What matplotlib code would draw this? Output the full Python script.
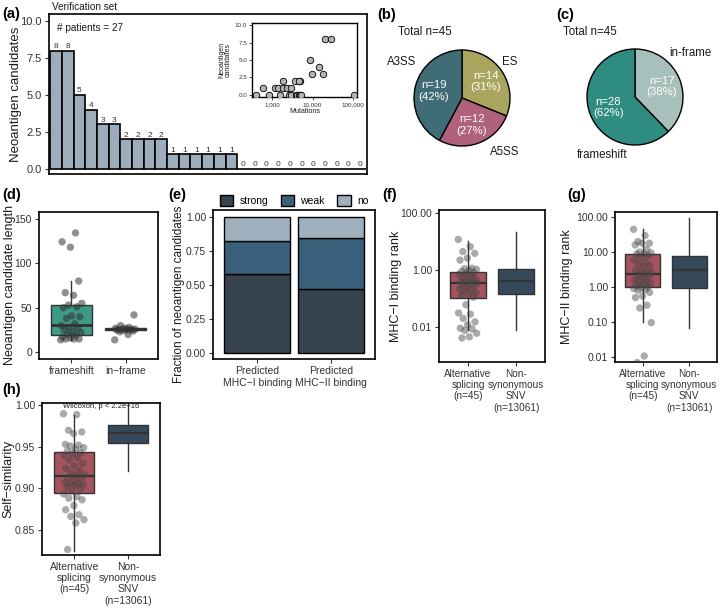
import matplotlib
matplotlib.use('Agg')
import matplotlib.pyplot as plt
import numpy as np

plt.rcParams['font.family'] = ['Liberation Sans', 'DejaVu Sans']

# ---------------- data ----------------
a_values = [8, 8, 5, 4, 3, 3, 2, 2, 2, 2, 1, 1, 1, 1, 1, 1, 0, 0, 0, 0, 0, 0, 0, 0, 0, 0, 0]
inset_neo = [8, 8, 5, 4, 3, 3, 2, 2, 2, 2, 1, 1, 1, 1, 1, 1, 0, 0, 0, 0, 0, 0, 0, 0, 0, 0, 0]
inset_mut = [20000, 29000, 8500, 14400, 9600, 18100, 1900, 3600, 4800, 4500,
             600, 1150, 1380, 1850, 2330, 2940,
             400, 810, 1520, 2650, 3000, 3900, 4000, 4500, 4800, 5100, 107000]

b_labels = ['ES', 'A5SS', 'A3SS']
b_counts = [14, 12, 19]
c_labels = ['in-frame', 'frameshift']
c_counts = [17, 28]

d_frameshift = [14, 15, 15, 15, 16, 17, 19, 20, 22, 23, 25, 27, 28, 30, 32, 38, 40, 41,
                50, 51, 53, 55, 64, 67, 80, 118, 124, 134]
d_inframe = [14, 20, 23, 24, 25, 25, 25, 25, 26, 26, 26, 26, 27, 27, 28, 30, 42]
d_cats = ['frameshift', 'in\u2212frame']

e_cats = ['Predicted\nMHC\u2212I binding', 'Predicted\nMHC\u2212II binding']
e_strong = [26, 21]
e_weak = [11, 17]
e_no = [8, 7]

group_labels = ['Alternative\nsplicing\n(n=45)', 'Non-\nsynonymous\nSNV\n(n=13061)']

f_points = [11.7, 6.5, 4.4, 3.8, 2.6, 2.2, 1.15, 1.1, 1.05, 0.95, 0.88,
            0.8, 0.75, 0.7, 0.62, 0.55, 0.5, 0.45, 0.42, 0.4, 0.37, 0.35,
            0.33, 0.3, 0.28, 0.25, 0.22, 0.2, 0.18, 0.16, 0.14, 0.13, 0.11,
            0.06, 0.031, 0.028, 0.02, 0.015, 0.012, 0.009, 0.0085, 0.0075, 0.006, 0.0045, 0.0041]
# q1, med, q3, whislo, whishi
f_stats_as = [0.107, 0.34, 0.83, 0.008, 10.7]
f_stats_snv = [0.14, 0.42, 1.05, 0.0075, 21]

g_points = [45, 30, 20, 18, 18, 16, 12, 10, 9.5, 9, 8.9,
            8, 7, 6, 5, 4.5, 4, 3.5, 3, 2.8, 2.6, 2.5,
            2.3, 2.1, 2.0, 1.8, 1.6, 1.5, 1.4, 1.3, 1.2, 1.1, 1.0,
            0.95, 0.9, 0.85, 0.8, 0.7, 0.55, 0.5, 0.3, 0.25, 0.095, 0.0105, 0.0068]
g_stats_as = [0.97, 2.4, 8.8, 0.098, 45]
g_stats_snv = [0.95, 3.1, 7.5, 0.067, 93]

h_points = [0.99, 0.989, 0.97, 0.968, 0.966, 0.953, 0.952, 0.951, 0.949, 0.947, 0.945,
            0.943, 0.942, 0.94, 0.937, 0.934, 0.93, 0.927, 0.924, 0.921, 0.918, 0.916,
            0.915,
            0.913, 0.911, 0.909, 0.907, 0.906, 0.905, 0.904, 0.903, 0.901, 0.899, 0.896,
            0.893, 0.89, 0.888, 0.886, 0.879, 0.874, 0.868, 0.866, 0.862, 0.858, 0.826]
h_stats_as = [0.894, 0.9152, 0.944, 0.824, 0.989]
h_stats_snv = [0.9545, 0.967, 0.977, 0.9206, 1.01]

# ---------------- figure ----------------
W, H = 720, 610
fig = plt.figure(figsize=(7.2, 6.1), dpi=100)
TXT = '#1a1a1a'
TICK = '#333333'
TL = 7.5


def add_ax(x0, y0, x1, y1):
    return fig.add_axes([x0 / W, 1 - y1 / H, (x1 - x0) / W, (y1 - y0) / H])


def style(ax, lab=TL):
    for s in ax.spines.values():
        s.set_linewidth(1.2)
        s.set_color('black')
    ax.tick_params(length=3, width=0.8, labelsize=lab, colors=TICK, labelcolor=TICK, pad=2)


def plabel(x, y, s):
    fig.text(x / W, 1 - y / H, s, fontsize=10.5, fontweight='bold', va='center', ha='left')


def ylab(x, y, s, size=9):
    fig.text(x / W, 1 - y / H, s, rotation=90, fontsize=size, color=TXT, ha='center', va='center')


def jitter(n, amp):
    return np.array([((i * 0.618034) % 1 - 0.5) * 2 * amp for i in range(n)])


# ---- (a)
ax = add_ax(49, 14, 367, 174)
xs = np.arange(1, len(a_values) + 1)
ax.bar(xs, a_values, width=1.0, color='#9DADBB', edgecolor='black', linewidth=1.2)
for xi, v in zip(xs, a_values):
    ax.text(xi, v + 0.03, str(v), ha='center', va='bottom', fontsize=6, color='#333333')
ax.set_xlim(0.4, 27.6)
ax.set_ylim(-0.35, 10.47)
ax.set_xticks([])
ax.set_yticks([0, 2.5, 5, 7.5, 10])
ax.set_yticklabels(['0.0', '2.5', '5.0', '7.5', '10.0'])
style(ax, 8)
ylab(16, 94, 'Neoantigen candidates', 9.5)
ax.text(0.025, 0.915, '# patients = 27', transform=ax.transAxes, fontsize=7.2, color=TXT, va='center')
fig.text(52 / W, 1 - 7 / H, 'Verification set', fontsize=7.2, color=TXT, va='center')
plabel(2, 14, '(a)')

# inset
ai = add_ax(252, 23, 357, 97)
ai.scatter(inset_mut, inset_neo, s=22, color='#B3B3B3', edgecolor='black', linewidth=0.6, zorder=3)
ai.set_xscale('log')
ai.set_xlim(316, 126000)
ai.set_ylim(-0.3, 10.3)
ai.set_xticks([1000, 10000, 100000])
ai.set_xticklabels(['1,000', '10,000', '100,000'])
ai.minorticks_off()
ai.set_yticks([0, 2.5, 5, 7.5, 10])
ai.set_yticklabels(['0.0', '2.5', '5.0', '7.5', '10.0'])
style(ai, 4.5)
ai.tick_params(length=2, width=0.6, pad=1.5)
for s in ai.spines.values():
    s.set_linewidth(1.0)
ai.set_xlabel('Mutations', fontsize=5, labelpad=1, color=TXT)
ai.set_ylabel('Neoantigen\ncandidates', fontsize=5, labelpad=2, color=TXT, linespacing=0.9)


# ---- pies
def pie_panel(center_x, center_y, counts, colors, fmt_total, outer, totpos):
    R = 48
    half = R * 1.6
    pa = add_ax(center_x - half, center_y - half, center_x + half, center_y + half)
    total = sum(counts)
    pa.pie(counts, colors=colors, startangle=90, counterclock=False,
           wedgeprops=dict(edgecolor='black', linewidth=1.0),
           autopct=lambda p: 'n=%d\n(%d%%)' % (round(p * total / 100), round(p)),
           pctdistance=0.6, textprops=dict(color='white', fontsize=8.2, linespacing=1.15))
    pa.set_xlim(-1.6, 1.6)
    pa.set_ylim(-1.6, 1.6)
    pa.set_aspect('auto')
    pa.axis('off')
    for lab, (x, y) in outer:
        pa.text(x, y, lab, ha='center', va='center', fontsize=8.3, color=TXT)
    pa.text(totpos[0], totpos[1], fmt_total, ha='left', va='center', fontsize=8.3, color=TXT)


pie_panel(462, 98, b_counts, ['#A9A45E', '#B0617B', '#3F6C75'], 'Total n=%d' % sum(b_counts),
          [(b_labels[0], (1.0, 0.75)), (b_labels[1], (0.88, -1.12)), (b_labels[2], (-1.25, 0.75))],
          (-1.33, 1.375))
plabel(377, 15, '(b)')

pie_panel(635, 97, c_counts, ['#A8C0BB', '#2F8C81'], 'Total n=%d' % sum(c_counts),
          [(c_labels[0], (1.15, 0.92)), (c_labels[1], (-0.69, -1.21))],
          (-1.5, 1.35))
plabel(556, 15, '(c)')

# ---- (d)
ax = add_ax(39, 212, 158, 359)
bp = ax.boxplot([d_frameshift, d_inframe], positions=[1, 2], widths=0.75, patch_artist=True,
                showcaps=False, showfliers=False,
                boxprops=dict(edgecolor='#333333', linewidth=1.0),
                medianprops=dict(color='#333333', linewidth=2.0),
                whiskerprops=dict(color='#333333', linewidth=1.0))
bp['boxes'][0].set_facecolor('#3E9986')
bp['boxes'][1].set_facecolor('#A8C0BB')
for pos, vals in [(1, d_frameshift), (2, d_inframe)]:
    ax.scatter(pos + jitter(len(vals), 0.2), vals, s=28, color='#333333', alpha=0.55,
               edgecolor='none', zorder=3)
ax.set_xlim(0.4, 2.6)
ax.set_ylim(-7.5, 157.5)
ax.set_yticks([0, 50, 100, 150])
ax.set_xticks([1, 2])
ax.set_xticklabels(d_cats)
style(ax)
ylab(10, 285, 'Neoantigen candidate length')
plabel(2, 195, '(d)')

# ---- (e)
ax = add_ax(213, 210, 375, 359)
tot = [s + w + n for s, w, n in zip(e_strong, e_weak, e_no)]
fs = [s / t for s, t in zip(e_strong, tot)]
fw = [w / t for w, t in zip(e_weak, tot)]
fn = [n / t for n, t in zip(e_no, tot)]
xe = np.arange(1, 3)
ax.bar(xe, fs, width=0.9, color='#37444F', edgecolor='black', linewidth=1.0, label='strong')
ax.bar(xe, fw, bottom=fs, width=0.9, color='#38607A', edgecolor='black', linewidth=1.0, label='weak')
ax.bar(xe, fn, bottom=[a + b for a, b in zip(fs, fw)], width=0.9, color='#9FB1BE',
       edgecolor='black', linewidth=1.0, label='no')
ax.set_xlim(0.4, 2.6)
ax.set_ylim(-0.045, 1.05)
ax.set_yticks([0, 0.25, 0.5, 0.75, 1.0])
ax.set_yticklabels(['0.00', '0.25', '0.50', '0.75', '1.00'])
ax.set_xticks([1, 2])
ax.set_xticklabels(e_cats, linespacing=1.2)
style(ax)
ylab(179, 294, 'Fraction of neoantigen candidates', 8.5)
ax.legend(loc='lower center', bbox_to_anchor=(0.5, 0.99), ncol=3, frameon=False, fontsize=7.5,
          handlelength=1.3, handleheight=1.3, columnspacing=1.2, handletextpad=0.6, borderaxespad=0.1)
plabel(168, 195, '(e)')


# ---- boxplot panels f, g, h
def box_panel(box, stats_as, stats_snv, points, ylog, ylim, yticks, yticklabels, xl=TL):
    ax = add_ax(*box)
    st = []
    for s in (stats_as, stats_snv):
        st.append(dict(q1=s[0], med=s[1], q3=s[2], whislo=s[3], whishi=s[4], fliers=[]))
    bp = ax.bxp(st, positions=[1, 2], widths=0.75, patch_artist=True, showcaps=False,
                showfliers=False,
                boxprops=dict(edgecolor='#333333', linewidth=1.0),
                medianprops=dict(color='#333333', linewidth=1.6),
                whiskerprops=dict(color='#333333', linewidth=1.0))
    bp['boxes'][0].set_facecolor('#A5535C')
    bp['boxes'][1].set_facecolor('#35495A')
    ax.scatter(1 + jitter(len(points), 0.2), points, s=28, color='#444444', alpha=0.45,
               edgecolor='none', zorder=3)
    if ylog:
        ax.set_yscale('log')
    ax.set_xlim(0.4, 2.6)
    ax.set_ylim(*ylim)
    ax.set_yticks(yticks)
    ax.set_yticklabels(yticklabels)
    ax.minorticks_off()
    ax.set_xticks([1, 2])
    ax.set_xticklabels(group_labels, linespacing=1.15, va='top')
    style(ax)
    ax.tick_params(axis='x', labelsize=xl)
    return ax


box_panel((439, 210, 545, 362), f_stats_as, f_stats_snv, f_points, True,
          (10 ** -3.23, 10 ** 2.1), [0.01, 1, 100], ['0.01', '1.00', '100.00'], xl=7.2)
ylab(396, 286, 'MHC\u2212I binding rank')
plabel(382, 195, '(f)')

box_panel((615, 212, 717, 362), g_stats_as, g_stats_snv, g_points, True,
          (10 ** -2.15, 10 ** 2.15), [0.01, 0.1, 1, 10, 100],
          ['0.01', '0.10', '1.00', '10.00', '100.00'], xl=7.2)
ylab(567, 287, 'MHC\u2212II binding rank')
plabel(567, 195, '(g)')

ax = box_panel((42, 403, 160, 555), h_stats_as, h_stats_snv, h_points, False,
               (0.8193, 1.003), [0.85, 0.9, 0.95, 1.0], ['0.85', '0.90', '0.95', '1.00'])
ax.text(1.5, 0.9985, 'Wilcoxon, p < 2.2e\u221216', ha='center', va='center', fontsize=5.5, color=TXT)
ylab(8, 479, 'Self\u2212similarity')
plabel(2, 390, '(h)')

fig.savefig('out.png', dpi=100)
